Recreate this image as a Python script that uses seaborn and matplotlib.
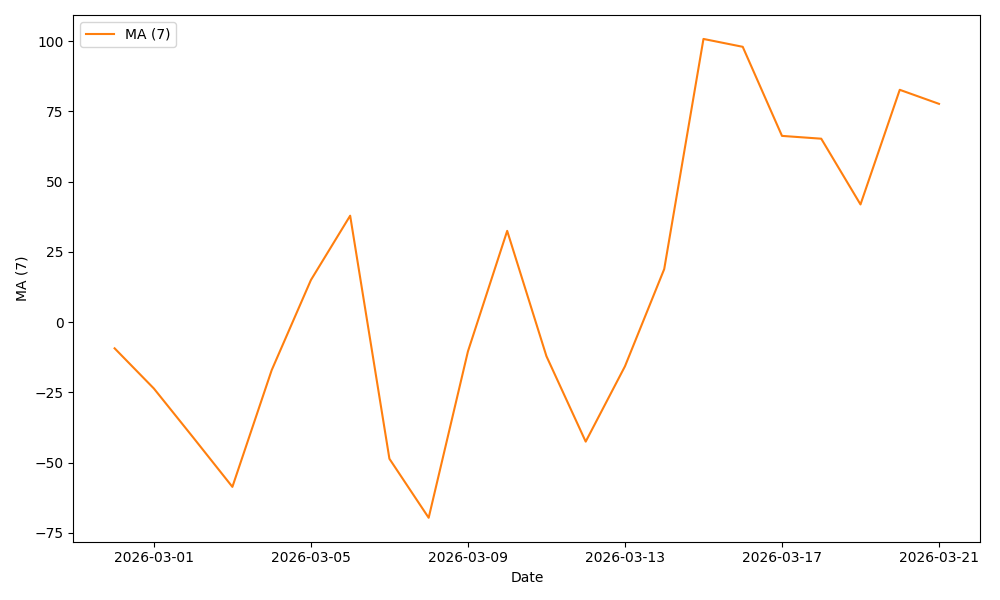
import numpy as np
import pandas as pd
import matplotlib
matplotlib.use('Agg')
import matplotlib.pyplot as plt
import matplotlib.dates as mdates
import seaborn as sns

dates = pd.date_range('2026-02-28', '2026-03-21', freq='D')
ma7 = [-9.3, -23.6, -41.0, -58.6, -17.1, 15.0, 37.9, -48.6, -69.6, -10.4, 32.5,
       -12.1, -42.5, -15.7, 18.9, 100.8, 98.0, 66.3, 65.3, 41.9, 82.7, 77.7]

df = pd.DataFrame({'Date': dates, 'MA (7)': ma7})

fig, ax = plt.subplots(figsize=(10, 6), dpi=100)
sns.lineplot(data=df, x='Date', y='MA (7)', color='#ff7f0e', label='MA (7)', ax=ax)
ax.xaxis.set_major_locator(mdates.DayLocator(bymonthday=[1, 5, 9, 13, 17, 21]))
ax.xaxis.set_major_formatter(mdates.DateFormatter('%Y-%m-%d'))
ax.legend(loc='upper left')
fig.tight_layout()
fig.savefig('out.png')
